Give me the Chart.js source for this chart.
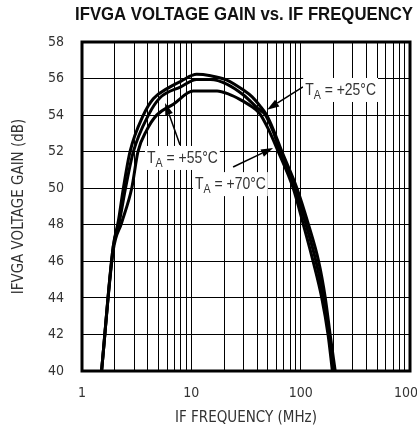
<!DOCTYPE html>
<html>
<head>
<meta charset="utf-8">
<script src="https://cdn.jsdelivr.net/npm/chart.js@4.4.1/dist/chart.umd.min.js"></script>
<style>
  html, body { margin: 0; padding: 0; background: #fff; }
  #wrap { width: 417px; height: 435px; }
</style>
</head>
<body>
<div id="wrap"><canvas id="gain-chart" width="417" height="435"></canvas></div>
<script>
// frequency (MHz) / gain (dB)
const freq25 = [1.51, 1.93, 2.15, 2.39, 2.75, 3.64, 4.49, 6.0, 8.0, 11.2, 15, 21.1, 30, 36, 42.5, 48.8, 56.3, 67.4, 92.4, 118, 146, 168, 186, 207];
const gain25 = [40, 46.8, 48.2, 50.0, 52.0, 54.0, 54.9, 55.45, 55.85, 56.23, 56.15, 55.92, 55.37, 55.0, 54.5, 54.0, 53.2, 52.0, 50.0, 48.0, 46.0, 44.0, 42.0, 40];

const freq55 = [1.51, 1.93, 2.2, 2.5, 2.95, 4.05, 5.17, 8.0, 11.2, 15, 21.1, 30, 40, 47.7, 56, 65, 89, 112, 138, 162, 182, 201];
const gain55 = [40, 46.8, 48.2, 50.0, 52.0, 54.0, 54.95, 55.55, 55.95, 55.95, 55.7, 55.1, 54.4, 54.0, 53.1, 52.0, 50.0, 48.0, 46.0, 44.0, 42.0, 40];

const freq70 = [1.51, 1.93, 2.3, 2.85, 3.25, 3.91, 4.82, 6.85, 10.4, 17.2, 22, 28, 35, 42, 50, 62.4, 85.5, 106, 130, 156, 178, 195];
const gain70 = [40, 46.6, 48.1, 50.0, 52.0, 53.18, 54.0, 54.6, 55.32, 55.32, 55.15, 54.85, 54.5, 54.1, 53.3, 52.0, 50.0, 48.0, 46.0, 44.0, 42.0, 40];

const xTicks = [1, 2, 3, 4, 5, 6, 7, 8, 9, 10, 20, 30, 40, 50, 60, 70, 80, 90, 100, 200, 300, 400, 500, 600, 700, 800, 900, 1000];

// temperature labels: text anchor (left, middle), arrow tail, arrow tip, in data units
const notes = [
  { temp: '+25°C', text: [110, 55.43], tail: [105, 55.54], tip: [49.3, 54.3] },
  { temp: '+55°C', text: [3.93, 51.71], tail: [7.88, 52.36], tip: [5.75, 54.66] },
  { temp: '+70°C', text: [10.8, 50.28], tail: [24.1, 51.16], tip: [55.9, 52.2] }
];

const FONT = '"DejaVu Sans Condensed", "Liberation Sans", sans-serif';
const NARROW = '"Liberation Sans", Arial, sans-serif';

const toPoints = (xs, ys) => xs.map((x, i) => ({ x: x, y: ys[i] }));

const lineSet = (pts) => ({
  data: pts,
  showLine: true,
  borderColor: '#000',
  borderWidth: 3,
  pointRadius: 0,
  fill: false,
  cubicInterpolationMode: 'monotone'
});

// draw text squeezed horizontally by sx, left aligned
function squeezed(c, str, x, y, sx) {
  c.save();
  c.translate(x, y);
  c.scale(sx, 1);
  c.fillText(str, 0, 0);
  c.restore();
}

const annotate = {
  id: 'annotate',
  afterDatasetsDraw(chart) {
    const c = chart.ctx;
    const xs = chart.scales.x, ys = chart.scales.y;
    const px = v => xs.getPixelForValue(v[0]);
    const py = v => ys.getPixelForValue(v[1]);
    c.save();
    notes.forEach(n => {
      // arrow
      const x0 = px(n.tail), y0 = py(n.tail), x1 = px(n.tip), y1 = py(n.tip);
      const a = Math.atan2(y1 - y0, x1 - x0);
      const hl = 12, hw = 4;
      c.strokeStyle = '#000';
      c.lineWidth = 1.5;
      c.beginPath();
      c.moveTo(x0, y0);
      c.lineTo(x1 - Math.cos(a) * hl, y1 - Math.sin(a) * hl);
      c.stroke();
      c.fillStyle = '#000';
      c.beginPath();
      c.moveTo(x1, y1);
      c.lineTo(x1 - Math.cos(a) * hl - Math.sin(a) * hw, y1 - Math.sin(a) * hl + Math.cos(a) * hw);
      c.lineTo(x1 - Math.cos(a) * hl + Math.sin(a) * hw, y1 - Math.sin(a) * hl - Math.cos(a) * hw);
      c.closePath();
      c.fill();

      // label with subscript A, squeezed to a narrow face
      const sx = 0.82;
      const tx = px(n.text), ty = py(n.text);
      c.textBaseline = 'alphabetic';
      c.textAlign = 'left';
      c.font = '17px ' + NARROW;
      const wT = c.measureText('T').width * sx;
      const rest = ' = ' + n.temp;
      const wR = c.measureText(rest).width * sx;
      c.font = '13px ' + NARROW;
      const wA = c.measureText('A').width * sx;
      const base = ty + 6;
      c.fillStyle = '#fff';
      c.fillRect(tx - 2, ty - 11, wT + wA + wR + 4, 24);
      c.fillStyle = '#333';
      c.font = '17px ' + NARROW;
      squeezed(c, 'T', tx, base, sx);
      c.font = '13px ' + NARROW;
      squeezed(c, 'A', tx + wT, base + 4, sx);
      c.font = '17px ' + NARROW;
      squeezed(c, rest, tx + wT + wA, base, sx);
    });

    // plot frame
    const ca = chart.chartArea;
    c.strokeStyle = '#000';
    c.lineWidth = 3;
    c.strokeRect(ca.left, ca.top, ca.right - ca.left, ca.bottom - ca.top);

    // heading, narrow bold, fitted to 338px
    const head = 'IFVGA VOLTAGE GAIN vs. IF FREQUENCY';
    c.fillStyle = '#111';
    c.font = 'bold 18px ' + NARROW;
    c.textAlign = 'left';
    c.textBaseline = 'middle';
    const hs = 338 / c.measureText(head).width;
    squeezed(c, head, (ca.left + ca.right) / 2 - 169 - 2, 15, hs);
    c.restore();
  }
};

new Chart(document.getElementById('gain-chart'), {
  type: 'scatter',
  data: {
    datasets: [
      lineSet(toPoints(freq25, gain25)),
      lineSet(toPoints(freq55, gain55)),
      lineSet(toPoints(freq70, gain70))
    ]
  },
  options: {
    responsive: false,
    animation: false,
    layout: { padding: { top: 42, right: 7, left: 0, bottom: 0 } },
    plugins: { legend: { display: false }, tooltip: { enabled: false }, title: { display: false } },
    scales: {
      x: {
        type: 'logarithmic',
        min: 1,
        max: 1000,
        afterBuildTicks: s => { s.ticks = xTicks.map(v => ({ value: v })); },
        afterFit: s => { s.height = 64; s.paddingLeft = 0; s.paddingRight = 0; },
        grid: { color: '#000', lineWidth: 1, drawTicks: false },
        border: { display: false },
        ticks: {
          autoSkip: false,
          maxRotation: 0,
          padding: 14,
          color: '#333',
          font: { family: FONT, size: 14 },
          callback: v => (Math.abs(Math.log10(v) - Math.round(Math.log10(v))) < 1e-9 ? String(v) : '')
        },
        title: {
          display: true,
          text: 'IF FREQUENCY (MHz)',
          color: '#333',
          font: { family: FONT, size: 15 },
          padding: { top: 0, bottom: 8 }
        }
      },
      y: {
        min: 40,
        max: 58,
        afterFit: s => { s.width = 82; s.paddingTop = 0; s.paddingBottom = 0; },
        grid: { color: '#000', lineWidth: 1, drawTicks: false },
        border: { display: false },
        ticks: {
          stepSize: 2,
          padding: 18,
          color: '#333',
          font: { family: FONT, size: 14 }
        },
        title: {
          display: true,
          text: 'IFVGA VOLTAGE GAIN (dB)',
          color: '#333',
          font: { family: FONT, size: 15 },
          padding: { top: 10, bottom: 0 }
        }
      }
    }
  },
  plugins: [annotate]
});
</script>
</body>
</html>
